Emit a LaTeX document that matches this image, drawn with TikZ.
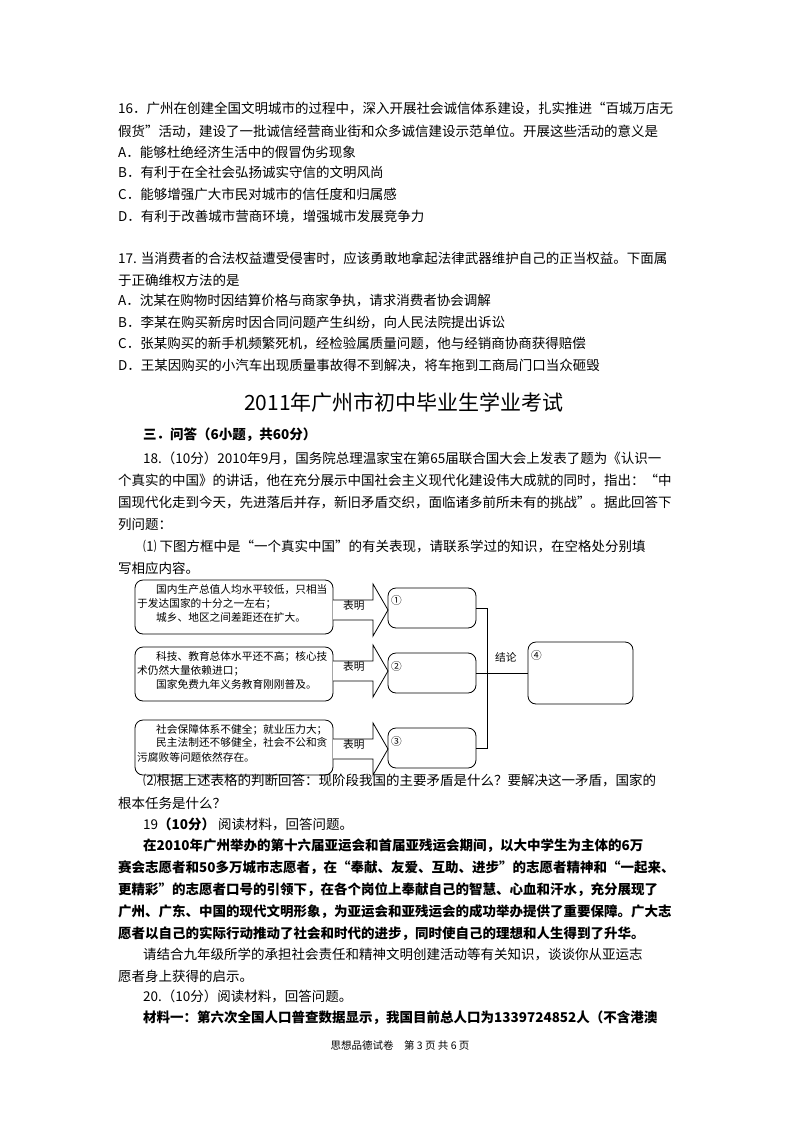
\documentclass[tikz,border=0pt]{standalone}
\usepackage{fontspec}
\setmainfont{Noto Sans CJK SC}
\begin{document}
\begin{tikzpicture}[x=1pt,y=-1pt,
  txt/.style={anchor=west,inner sep=0,font=\fontsize{13.5}{16}\selectfont},
  btxt/.style={txt,font=\fontsize{13.5}{16}\selectfont\bfseries},
  stxt/.style={anchor=west,inner sep=0,font=\fontsize{10.7}{13}\selectfont},
  rbox/.style={draw,thick,rounded corners=8pt},
  arr/.style={draw,thick,fill=white}]
\useasboundingbox (0,0) rectangle (800,1132);
\fill[white] (0,0) rectangle (800,1132);
% Q16
\node[txt] (a1) at (118,108) {16．广州在创建全国文明城市的过程中，深入开展社会诚信体系建设，扎实推进“百城万店无};
\node[txt] (a2) at (118,131) {假货”活动，建设了一批诚信经营商业街和众多诚信建设示范单位。开展这些活动的意义是};
\node[txt] (a3) at (118,152) {A．能够杜绝经济生活中的假冒伪劣现象};
\node[txt] (a4) at (118,172) {B．有利于在全社会弘扬诚实守信的文明风尚};
\node[txt] (a5) at (118,194) {C．能够增强广大市民对城市的信任度和归属感};
\node[txt] (a6) at (118,216) {D．有利于改善城市营商环境，增强城市发展竞争力};
% Q17
\node[txt] (b1) at (118,258) {17. 当消费者的合法权益遭受侵害时，应该勇敢地拿起法律武器维护自己的正当权益。下面属};
\node[txt] (b2) at (118,280) {于正确维权方法的是};
\node[txt] (b3) at (118,301) {A．沈某在购物时因结算价格与商家争执，请求消费者协会调解};
\node[txt] (b4) at (118,322) {B．李某在购买新房时因合同问题产生纠纷，向人民法院提出诉讼};
\node[txt] (b5) at (118,344) {C．张某购买的新手机频繁死机，经检验属质量问题，他与经销商协商获得赔偿};
\node[txt] (b6) at (118,366) {D．王某因购买的小汽车出现质量事故得不到解决，将车拖到工商局门口当众砸毁};
% title
\node[inner sep=0,font=\fontsize{21}{24}\selectfont] (title) at (404,403) {2011年广州市初中毕业生学业考试};
\node[btxt] (c0) at (143,435) {三．问答（6小题，共60分）};
\node[txt] (c1) at (143,458) {18.（10分）2010年9月，国务院总理温家宝在第65届联合国大会上发表了题为《认识一};
\node[txt] (c2) at (118,480) {个真实的中国》的讲话，他在充分展示中国社会主义现代化建设伟大成就的同时，指出：“中};
\node[txt] (c3) at (118,502) {国现代化走到今天，先进落后并存，新旧矛盾交织，面临诸多前所未有的挑战”。据此回答下};
\node[txt] (c4) at (118,524) {列问题：};
\node[txt] (c5) at (143,546) {⑴ 下图方框中是“一个真实中国”的有关表现，请联系学过的知识，在空格处分别填};
\node[txt] (c6) at (118,568) {写相应内容。};
% diagram
\draw[rbox] (135,580) rectangle (333,634);
\draw[rbox] (135,647) rectangle (333,701);
\draw[rbox] (135,720) rectangle (333,775);
\foreach \c/\n in {610/1,671/2,749/3}{
  \draw[arr] (333,\c-10) -- (373,\c-10) -- (373,\c-26) -- (388,\c) -- (373,\c+26) -- (373,\c+10) -- (333,\c+10);
  \node[stxt] (bm\n) at (343,\c-5) {表明};
}
\node[stxt] (d11) at (156,590) {国内生产总值人均水平较低，只相当};
\node[stxt] (d12) at (137,604) {于发达国家的十分之一左右；};
\node[stxt] (d13) at (156,617) {城乡、地区之间差距还在扩大。};
\node[stxt] (d21) at (156,657) {科技、教育总体水平还不高；核心技};
\node[stxt] (d22) at (137,671) {术仍然大量依赖进口；};
\node[stxt] (d23) at (156,684) {国家免费九年义务教育刚刚普及。};
\node[stxt] (d31) at (156,730) {社会保障体系不健全；就业压力大；};
\node[stxt] (d32) at (156,743) {民主法制还不够健全，社会不公和贪};
\node[stxt] (d33) at (137,757) {污腐败等问题依然存在。};
\draw[rbox] (388,588) rectangle (476,628);
\draw[rbox] (388,653) rectangle (476,693);
\draw[rbox] (388,728) rectangle (476,768);
\draw[rbox] (528,642) rectangle (633,704);
\coordinate (e1) at (476,608);
\coordinate (e2) at (476,673);
\coordinate (e3) at (476,748);
\node[stxt] (n1) at (391,600) {①};
\node[stxt] (n2) at (391,666) {②};
\node[stxt] (n3) at (391,741) {③};
\node[stxt] (n4) at (531,655) {④};
\coordinate (v1) at (487,608);
\coordinate (v3) at (487,748);
\draw[thick] (e1) -- (v1) -- (v3) -- (e3);
\draw[thick] (e2) -- (528,673);
\node[stxt] (jl) at (495,657) {结论};
% after
\node[txt] (f1) at (143,780) {⑵根据上述表格的判断回答：现阶段我国的主要矛盾是什么？要解决这一矛盾，国家的};
\node[txt] (f2) at (118,803) {根本任务是什么？};
\node[txt] (f3) at (143,824) {19\textbf{（10分）} 阅读材料，回答问题。};
\node[btxt] (g1) at (143,846) {在2010年广州举办的第十六届亚运会和首届亚残运会期间，以大中学生为主体的6万};
\node[btxt] (g2) at (118,868) {赛会志愿者和50多万城市志愿者，在“奉献、友爱、互助、进步”的志愿者精神和“一起来、};
\node[btxt] (g3) at (118,890) {更精彩”的志愿者口号的引领下，在各个岗位上奉献自己的智慧、心血和汗水，充分展现了};
\node[btxt] (g4) at (118,912) {广州、广东、中国的现代文明形象，为亚运会和亚残运会的成功举办提供了重要保障。广大志};
\node[btxt] (g5) at (118,934) {愿者以自己的实际行动推动了社会和时代的进步，同时使自己的理想和人生得到了升华。};
\node[txt] (h1) at (143,954) {请结合九年级所学的承担社会责任和精神文明创建活动等有关知识，谈谈你从亚运志};
\node[txt] (h2) at (118,976) {愿者身上获得的启示。};
\node[txt] (h3) at (143,996) {20.（10分）阅读材料，回答问题。};
\node[btxt] (h4) at (143,1018) {材料一：第六次全国人口普查数据显示，我国目前总人口为1339724852人（不含港澳};
\node[inner sep=0,font=\fontsize{10.5}{12}\selectfont] (foot) at (400,1045) {思想品德试卷\quad 第 3 页 共 6 页};
\end{tikzpicture}
\end{document}
